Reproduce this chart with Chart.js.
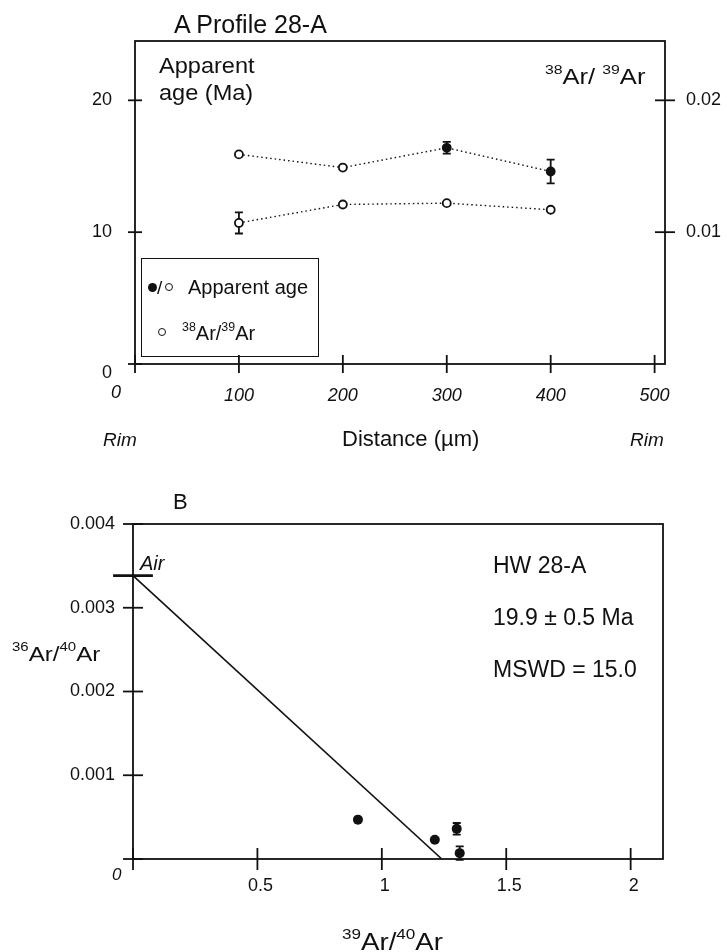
<!DOCTYPE html>
<html>
<head>
<meta charset="utf-8">
<script src="https://cdn.jsdelivr.net/npm/chart.js@4.4.1/dist/chart.umd.min.js"></script>
<style>
  html, body { margin: 0; padding: 0; background: #fff; }
  body { width: 727px; height: 952px; position: relative; overflow: hidden;
         font-family: Arial, "Liberation Sans", Helvetica, sans-serif; color: #111; }
  canvas { position: absolute; left: 0; }
  #chartA { top: 0; }
  #chartB { top: 480px; }
  .t { position: absolute; white-space: nowrap; line-height: 1; transform-origin: 0 50%; }
  .i { font-style: italic; }
  .s { font-size: 0.62em; vertical-align: 0.75em; }
  .box { position: absolute; border: 1.5px solid #111; box-sizing: border-box; }
  .dot { position: absolute; width: 9px; height: 9px; border-radius: 50%; background: #111; }
  .ring { position: absolute; width: 8px; height: 8px; border-radius: 50%; border: 1.6px solid #111;
          box-sizing: border-box; background: #fff; }
</style>
</head>
<body>
<canvas id="chartA" width="727" height="480"></canvas>
<canvas id="chartB" width="727" height="472"></canvas>

<!-- panel A labels -->
<div class="t" style="left:174px; top:12px; font-size:25px;">A Profile 28-A</div>
<div class="t" style="left:159px; top:52px; font-size:22px; line-height:27px; transform:scaleX(1.07);">Apparent<br>age (Ma)</div>
<div class="t" style="left:545px; top:63px; font-size:22px; transform:scaleX(1.16);"><span class="s">38</span>Ar/ <span class="s">39</span>Ar</div>
<div class="t" style="left:102px; top:363px; font-size:18px;">0</div>
<div class="t i" style="left:111px; top:383px; font-size:18px;">0</div>
<div class="t i" style="left:103px; top:430px; font-size:19px;">Rim</div>
<div class="t" style="left:342px; top:428px; font-size:22px;">Distance (µm)</div>
<div class="t i" style="left:630px; top:430px; font-size:19px;">Rim</div>

<div class="box" style="left:141px; top:258px; width:178px; height:99px;"></div>
<div class="dot" style="left:148px; top:283px;"></div>
<div class="t" style="left:157px; top:278px; font-size:19px;">/</div>
<div class="ring" style="left:165px; top:283px;"></div>
<div class="t" style="left:188px; top:277px; font-size:20px;">Apparent age</div>
<div class="ring" style="left:158px; top:328px;"></div>
<div class="t" style="left:182px; top:321px; font-size:20px;"><span class="s">38</span>Ar/<span class="s">39</span>Ar</div>

<!-- panel B labels -->
<div class="t" style="left:173px; top:491px; font-size:22px;">B</div>
<div class="t i" style="left:140px; top:553px; font-size:20px;">Air</div>
<div class="t" style="left:12px; top:640px; font-size:21px; transform:scaleX(1.15);"><span class="s">36</span>Ar/<span class="s">40</span>Ar</div>
<div class="t" style="left:493px; top:554px; font-size:23px;">HW 28-A</div>
<div class="t" style="left:493px; top:606px; font-size:23px;">19.9 ± 0.5 Ma</div>
<div class="t" style="left:493px; top:658px; font-size:23px;">MSWD = 15.0</div>
<div class="t i" style="left:112px; top:866px; font-size:17px;">0</div>
<div class="t" style="left:342px; top:927px; font-size:23px; transform:scaleX(1.2);"><span class="s">39</span>Ar/<span class="s">40</span>Ar</div>

<script>
// Profile 28-A: apparent age and 38Ar/39Ar along the traverse
const distance = [100, 200, 300, 400];
const apparentAge = [15.9, 14.9, 16.4, 14.6];
const apparentAgeErr = [null, null, 0.45, 0.9];
const ageFilled = [false, false, true, true];
const ar38ar39 = [0.0107, 0.0121, 0.0122, 0.0117];
const ar38ar39Err = [0.0008, null, null, null];
const distTicks = [0, 100, 200, 300, 400, 500];
const ageTicks = [0, 10, 20];
const ratioTicks = [0.01, 0.02];

// HW 28-A inverse isochron
const ar39ar40 = [0.904, 1.213, 1.301, 1.313];
const ar36ar40 = [0.00047, 0.00023, 0.00036, 0.00007];
const ar36ar40Err = [null, null, 0.00007, 0.00008];
const airRatio = 1 / 295.5;
const isoIntercept = 1.241;
const airBar = [-0.08, 0.08];
const isoXTicks = [0, 0.5, 1, 1.5, 2];
const isoYTicks = [0, 0.001, 0.002, 0.003, 0.004];

const FONT = 'Arial, "Liberation Sans", Helvetica, sans-serif';
const INK = '#111';

// box around the plot area plus tick marks that cross the axis line
const framePlugin = {
  id: 'frame',
  afterDraw(chart, args, opts) {
    const { ctx, chartArea: a, scales } = chart;
    ctx.save();
    ctx.strokeStyle = INK;
    ctx.lineWidth = opts.width || 1.6;
    ctx.strokeRect(a.left, a.top, a.right - a.left, a.bottom - a.top);
    (opts.marks || []).forEach(m => {
      const s = scales[m.id];
      s.ticks.forEach(t => {
        const p = s.getPixelForValue(t.value);
        ctx.beginPath();
        if (s.isHorizontal()) {
          ctx.moveTo(p, a.bottom - m.len);
          ctx.lineTo(p, a.bottom + m.len);
        } else {
          const x0 = s.position === 'right' ? a.right : a.left;
          ctx.moveTo(x0 - m.len, p);
          ctx.lineTo(x0 + m.len, p);
        }
        ctx.stroke();
      });
    });
    ctx.restore();
  }
};

// vertical error bars from the dataset's errs array
const errorBarPlugin = {
  id: 'errbars',
  beforeDatasetsDraw(chart) {
    const ctx = chart.ctx;
    chart.data.datasets.forEach(ds => {
      if (!ds.errs) return;
      const xs = chart.scales[ds.xAxisID || 'x'];
      const ys = chart.scales[ds.yAxisID || 'y'];
      ds.data.forEach((d, i) => {
        const e = ds.errs[i];
        if (!e) return;
        const x = xs.getPixelForValue(d.x);
        const y1 = ys.getPixelForValue(d.y - e);
        const y2 = ys.getPixelForValue(d.y + e);
        ctx.save();
        ctx.strokeStyle = INK;
        ctx.lineWidth = 1.8;
        ctx.beginPath();
        ctx.moveTo(x, y1); ctx.lineTo(x, y2);
        ctx.moveTo(x - 4, y1); ctx.lineTo(x + 4, y1);
        ctx.moveTo(x - 4, y2); ctx.lineTo(x + 4, y2);
        ctx.stroke();
        ctx.restore();
      });
    });
  }
};

function fixed(list) {
  return s => { s.ticks = list.map(v => ({ value: v })); };
}
function noZero(v) { return v === 0 ? '' : String(v); }

new Chart(document.getElementById('chartA'), {
  type: 'scatter',
  data: {
    datasets: [
      {
        label: 'Apparent age',
        data: distance.map((d, i) => ({ x: d, y: apparentAge[i] })),
        errs: apparentAgeErr,
        yAxisID: 'y',
        showLine: true,
        borderColor: INK,
        borderWidth: 1.4,
        borderDash: [1.5, 3],
        pointRadius: 4,
        pointBorderWidth: 1.8,
        pointBorderColor: INK,
        pointBackgroundColor: ageFilled.map(f => f ? INK : '#fff')
      },
      {
        label: '38Ar/39Ar',
        data: distance.map((d, i) => ({ x: d, y: ar38ar39[i] })),
        errs: ar38ar39Err,
        yAxisID: 'y1',
        showLine: true,
        borderColor: INK,
        borderWidth: 1.4,
        borderDash: [1.5, 3],
        pointRadius: 4,
        pointBorderWidth: 1.8,
        pointBorderColor: INK,
        pointBackgroundColor: '#fff'
      }
    ]
  },
  options: {
    responsive: false,
    animation: false,
    events: [],
    layout: { padding: { left: 0, right: 0, top: 41, bottom: 0 } },
    plugins: {
      legend: { display: false },
      tooltip: { enabled: false },
      frame: { width: 1.8, marks: [{ id: 'x', len: 9 }, { id: 'y', len: 7 }, { id: 'y1', len: 10 }] }
    },
    scales: {
      x: {
        type: 'linear', min: 0, max: 510,
        afterBuildTicks: fixed(distTicks),
        afterFit: s => { s.height = 480 - 364; },
        grid: { display: false, drawTicks: false },
        border: { display: false },
        ticks: { padding: 21, color: INK, font: { family: FONT, size: 18, style: 'italic' }, callback: noZero }
      },
      y: {
        type: 'linear', position: 'left', min: 0, max: 24.5,
        afterBuildTicks: fixed(ageTicks),
        afterFit: s => { s.width = 135; },
        grid: { display: false, drawTicks: false },
        border: { display: false },
        ticks: { padding: 23, color: INK, font: { family: FONT, size: 18 }, callback: noZero }
      },
      y1: {
        type: 'linear', position: 'right', min: 0, max: 0.0245,
        afterBuildTicks: fixed(ratioTicks),
        afterFit: s => { s.width = 727 - 665; },
        grid: { display: false, drawTicks: false },
        border: { display: false },
        ticks: { padding: 21, color: INK, font: { family: FONT, size: 18 }, callback: v => String(v) }
      }
    }
  },
  plugins: [framePlugin, errorBarPlugin]
});

new Chart(document.getElementById('chartB'), {
  type: 'scatter',
  data: {
    datasets: [
      {
        label: 'isochron',
        data: [{ x: 0, y: airRatio }, { x: isoIntercept, y: 0 }],
        showLine: true,
        borderColor: INK,
        borderWidth: 1.6,
        pointRadius: 0
      },
      {
        label: 'air',
        data: airBar.map(x => ({ x: x, y: airRatio })),
        showLine: true,
        clip: false,
        borderColor: INK,
        borderWidth: 2.6,
        pointRadius: 0
      },
      {
        label: 'HW 28-A',
        data: ar39ar40.map((x, i) => ({ x: x, y: ar36ar40[i] })),
        errs: ar36ar40Err,
        showLine: false,
        pointRadius: 5,
        pointBorderWidth: 0,
        pointBackgroundColor: INK
      }
    ]
  },
  options: {
    responsive: false,
    animation: false,
    events: [],
    layout: { padding: { left: 0, right: 727 - 663, top: 44, bottom: 0 } },
    plugins: {
      legend: { display: false },
      tooltip: { enabled: false },
      frame: { width: 1.8, marks: [{ id: 'x', len: 11 }, { id: 'y', len: 10 }] }
    },
    scales: {
      x: {
        type: 'linear', min: 0, max: 2.13,
        afterBuildTicks: fixed(isoXTicks),
        afterFit: s => { s.height = 472 - 379; },
        grid: { display: false, drawTicks: false },
        border: { display: false },
        ticks: { padding: 16, labelOffset: 3, color: INK, font: { family: FONT, size: 18 }, callback: noZero }
      },
      y: {
        type: 'linear', min: 0, max: 0.004,
        afterBuildTicks: fixed(isoYTicks),
        afterFit: s => { s.width = 133; },
        grid: { display: false, drawTicks: false },
        border: { display: false },
        ticks: { padding: 18, color: INK, font: { family: FONT, size: 18 }, callback: noZero }
      }
    }
  },
  plugins: [framePlugin, errorBarPlugin]
});
</script>
</body>
</html>
